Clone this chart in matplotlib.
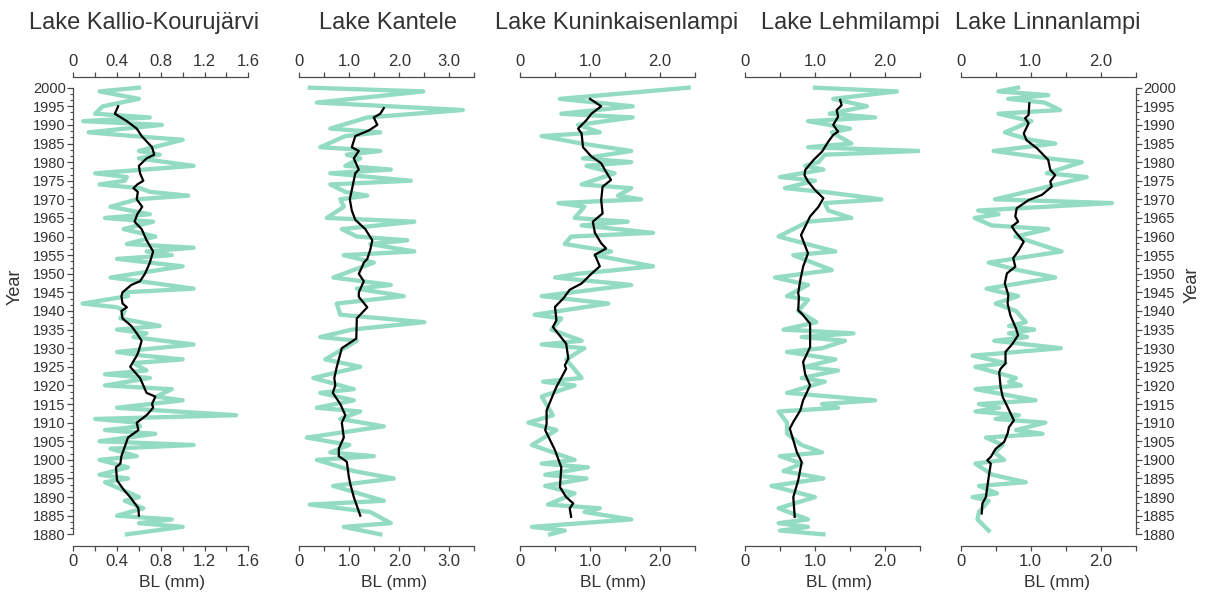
import numpy as np
import matplotlib.pyplot as plt
from matplotlib.ticker import MultipleLocator, AutoMinorLocator, FixedLocator, FuncFormatter

plt.rcParams['font.family'] = ['Liberation Sans', 'DejaVu Sans']

# Lake Kallio-Kourujärvi
kk_years = [2000, 1999, 1997, 1995, 1993, 1992, 1991, 1990, 1988, 1987, 1986, 1983, 1982, 1981,
            1979, 1977, 1976, 1975, 1974, 1973, 1972, 1971, 1970, 1968, 1966, 1965, 1964, 1962,
            1960, 1958, 1957, 1956, 1955, 1954, 1952, 1949, 1948, 1946, 1945, 1944, 1942, 1941,
            1940, 1938, 1936, 1935, 1934, 1933, 1931, 1929, 1928, 1927, 1926, 1924, 1923, 1922,
            1920, 1919, 1917, 1916, 1914, 1912, 1911, 1910, 1909, 1908, 1907, 1905, 1904, 1903,
            1901, 1900, 1898, 1896, 1895, 1894, 1890, 1889, 1887, 1885, 1884, 1883, 1882, 1880]
kk_bl = [0.60, 0.24, 0.60, 0.27, 0.20, 0.70, 0.09, 0.81, 0.14, 0.55, 1.00, 0.60, 0.79, 0.60,
         1.10, 0.20, 0.49, 0.47, 0.24, 0.61, 0.70, 1.05, 0.58, 0.34, 0.70, 0.29, 0.73, 0.46,
         0.75, 0.49, 1.10, 0.67, 0.90, 0.40, 1.00, 0.34, 0.61, 1.10, 0.46, 0.50, 0.085, 0.40,
         0.47, 0.43, 0.79, 0.40, 0.67, 0.55, 1.10, 0.40, 0.64, 1.00, 0.55, 0.67, 0.29, 0.70,
         0.29, 0.90, 0.76, 1.00, 0.40, 1.49, 0.20, 0.58, 0.61, 0.29, 0.75, 0.24, 1.10, 0.34,
         0.58, 0.24, 0.50, 0.24, 0.50, 0.29, 0.60, 0.47, 0.64, 0.40, 0.90, 0.60, 1.00, 0.49]
kk_smooth_years = [1995, 1993, 1991, 1989, 1987, 1984, 1982, 1981, 1979, 1977, 1975, 1974, 1973,
                   1972, 1970, 1968, 1966, 1964, 1962, 1959, 1956, 1953, 1950, 1948, 1947, 1945,
                   1944, 1942, 1941, 1940, 1938, 1936, 1934, 1932, 1929, 1928, 1925, 1922, 1920,
                   1918, 1917, 1915, 1914, 1912, 1910, 1908, 1906, 1903.5, 1901, 1899, 1898,
                   1894.5, 1892, 1890, 1887, 1885]
kk_smooth = [0.41, 0.38, 0.49, 0.58, 0.625, 0.72, 0.74, 0.67, 0.60, 0.61, 0.64, 0.585, 0.55,
             0.59, 0.58, 0.63, 0.585, 0.56, 0.625, 0.67, 0.73, 0.70, 0.655, 0.61, 0.53, 0.45,
             0.44, 0.45, 0.49, 0.44, 0.45, 0.53, 0.58, 0.625, 0.595, 0.58, 0.52, 0.61, 0.64,
             0.67, 0.75, 0.72, 0.73, 0.67, 0.58, 0.595, 0.50, 0.47, 0.44, 0.43, 0.39,
             0.40, 0.46, 0.52, 0.595, 0.60]

# Lake Kantele
ka_years = [2000, 1999, 1996, 1994, 1992, 1989, 1988, 1987, 1984, 1983, 1982, 1981, 1979, 1978,
            1977, 1975, 1974, 1972, 1971, 1970, 1968, 1965, 1964, 1962, 1960, 1959, 1958, 1956,
            1955, 1953, 1949, 1947, 1946, 1944, 1942, 1939, 1937, 1935, 1933, 1932, 1927, 1925,
            1922, 1919, 1918, 1916, 1914, 1913, 1911, 1909, 1906, 1904, 1902, 1901, 1900, 1897,
            1895, 1893, 1889, 1888, 1886, 1883, 1882, 1880]
ka_bl = [0.21, 2.48, 0.35, 3.27, 1.36, 0.62, 1.62, 0.92, 0.42, 1.62, 0.95, 1.22, 0.92, 1.83,
         0.62, 2.23, 0.62, 0.92, 1.36, 0.82, 0.89, 0.55, 2.30, 0.85, 1.15, 2.16, 1.42, 2.30,
         0.89, 1.49, 0.68, 1.83, 1.15, 2.09, 0.75, 0.82, 2.50, 1.05, 0.42, 1.15, 0.52, 1.22,
         0.28, 1.09, 0.42, 1.09, 0.35, 1.22, 0.82, 1.69, 0.15, 1.00, 0.62, 1.49, 0.35, 1.09,
         1.89, 0.68, 1.69, 0.21, 1.42, 1.83, 0.89, 1.62]
ka_smooth_years = [1994.5, 1993, 1992, 1990, 1988.5, 1987, 1984, 1983, 1981, 1978, 1977, 1972.5,
                   1970, 1967, 1964.5, 1962, 1959, 1956.5, 1954, 1953, 1952, 1950, 1948, 1945,
                   1943.8, 1941, 1938, 1932.6, 1930, 1925, 1922, 1920, 1918, 1915, 1912, 1910,
                   1906, 1903, 1901, 1899.5, 1895.5, 1893.5, 1890, 1885]
ka_smooth = [1.69, 1.62, 1.49, 1.56, 1.39, 1.12, 1.05, 1.19, 1.09, 1.19, 1.12, 1.05,
             1.01, 1.05, 1.12, 1.32, 1.46, 1.42, 1.36, 1.29, 1.26, 1.19, 1.29, 1.19,
             1.19, 1.36, 1.15, 1.14, 0.85, 0.75, 0.70, 0.72, 0.67, 0.82, 0.92, 0.85,
             0.89, 0.79, 0.79, 0.95, 0.99, 1.02, 1.09, 1.22]

# Lake Kuninkaisenlampi
ku_years = [2000, 1997, 1995, 1993, 1992, 1990, 1988, 1987, 1985, 1983, 1981, 1980, 1979, 1977,
            1974, 1973, 1971, 1970, 1969, 1968, 1965, 1964, 1963, 1961, 1960, 1958, 1956, 1955,
            1952, 1950, 1949, 1947, 1944, 1942, 1939, 1938, 1935, 1932, 1931, 1930, 1927, 1922,
            1921, 1920, 1917, 1912, 1910, 1908, 1904, 1900, 1899, 1898, 1896, 1895, 1893, 1891,
            1888, 1887, 1886, 1884, 1882, 1881, 1880]
ku_bl = [2.41, 0.57, 1.61, 0.59, 1.61, 0.83, 1.14, 0.31, 0.88, 1.59, 0.90, 1.59, 0.95, 1.35,
         0.88, 1.59, 1.40, 1.73, 0.55, 0.92, 0.78, 1.54, 0.88, 1.90, 0.73, 0.64, 1.30, 1.07,
         1.90, 0.83, 0.50, 1.59, 0.31, 1.26, 0.21, 0.59, 0.45, 0.88, 0.31, 0.92, 0.66, 0.88,
         0.33, 0.78, 0.31, 0.47, 0.12, 0.52, 0.17, 0.78, 0.31, 0.97, 0.36, 0.95, 0.36, 0.78,
         0.40, 1.14, 0.92, 1.59, 0.17, 0.64, 0.43]
ku_smooth_years = [1997, 1995, 1993, 1991.3, 1989, 1987.7, 1984, 1981.5, 1979.7, 1978, 1975.2,
                   1973.4, 1969.8, 1966.2, 1964, 1961, 1958.2, 1956.8, 1955.1, 1952, 1950,
                   1947.4, 1945.7, 1943.4, 1941.1, 1937.5, 1935.7, 1931.2, 1927.2, 1925.4,
                   1924.5, 1919.6, 1917.4, 1913.3, 1909.7, 1908, 1905.3, 1902.6, 1898, 1892.7,
                   1890, 1888.3, 1887, 1884.7]
ku_smooth = [1.00, 1.16, 1.02, 0.95, 0.83, 0.88, 0.90, 1.02, 1.16, 1.21, 1.30,
             1.18, 1.16, 1.18, 1.04, 1.07, 1.16, 1.23, 1.07, 1.14, 1.02,
             0.88, 0.71, 0.62, 0.50, 0.52, 0.47, 0.66, 0.69, 0.64,
             0.66, 0.52, 0.47, 0.38, 0.38, 0.36, 0.43, 0.50, 0.59, 0.57,
             0.66, 0.76, 0.71, 0.73]

# Lake Lehmilampi
le_years = [2000, 1999, 1997, 1995, 1993, 1992, 1991, 1989, 1988, 1985, 1984, 1983, 1982, 1980,
            1979, 1978, 1976, 1975, 1973, 1972, 1970, 1969, 1967, 1965, 1964, 1960, 1956, 1955,
            1951, 1949, 1947, 1944, 1943, 1940, 1937, 1935, 1934, 1933, 1932, 1930, 1929, 1927,
            1925, 1924, 1922, 1921, 1918, 1916, 1915, 1914, 1913, 1910, 1907, 1904, 1902, 1901,
            1899, 1897, 1895, 1893, 1890, 1887, 1884, 1883, 1882, 1881, 1880]
le_bl = [1.00, 2.17, 1.26, 1.74, 1.21, 1.86, 0.90, 1.50, 1.24, 1.52, 0.90, 2.48, 1.14, 1.05,
         0.86, 1.12, 0.50, 1.00, 0.57, 1.12, 1.95, 1.14, 1.19, 1.52, 0.90, 0.48, 1.29, 0.69,
         1.24, 0.43, 0.90, 0.60, 0.90, 0.76, 1.02, 0.55, 1.55, 0.81, 1.43, 1.10, 0.60, 1.29,
         0.86, 1.33, 0.81, 1.14, 0.60, 1.86, 1.10, 1.33, 0.48, 0.60, 0.60, 0.81, 1.10, 0.50,
         0.81, 0.55, 1.12, 0.38, 1.00, 0.48, 0.90, 0.48, 0.90, 0.50, 1.12]
le_smooth_years = [1996.7, 1995.3, 1994, 1992.2, 1990, 1988.2, 1987.3, 1985.5, 1982.8, 1980.6,
                   1977.9, 1976.5, 1974.8, 1972.5, 1970.3, 1968, 1965.4, 1962.7, 1960.4, 1955.5,
                   1951.9, 1948.3, 1944.8, 1943.8, 1940.2, 1939.3, 1936.6, 1930.3, 1926.3, 1923,
                   1920, 1916, 1913.3, 1910.2, 1908.4, 1905.3, 1902.1, 1899.4, 1894.5, 1890,
                   1884.7]
le_smooth = [1.36, 1.38, 1.31, 1.33, 1.26, 1.33, 1.26, 1.19, 1.10, 0.98,
             0.86, 0.85, 0.90, 1.00, 1.12, 1.05, 0.93, 0.86, 0.80, 0.90,
             0.83, 0.79, 0.76, 0.77, 0.76, 0.81, 0.93, 0.93, 0.83, 0.86,
             0.93, 0.83, 0.79, 0.69, 0.64, 0.69, 0.74, 0.81, 0.76, 0.69,
             0.71]

# Lake Linnanlampi
li_years = [2000, 1999, 1998, 1997, 1996, 1994, 1993, 1991, 1988, 1986, 1985, 1983, 1981, 1980,
            1977, 1976, 1973, 1970, 1969, 1967, 1966, 1965, 1963, 1962, 1960, 1956, 1953, 1951,
            1949, 1946, 1944, 1942, 1940, 1937, 1936, 1935, 1934, 1933, 1932, 1930, 1928, 1926,
            1925, 1922, 1921, 1920, 1919, 1916, 1915, 1914, 1913, 1912, 1911, 1910, 1908, 1907,
            1906, 1904, 1902, 1900, 1899, 1896, 1894, 1893, 1891, 1890, 1889, 1886, 1884, 1881]
li_bl = [0.82, 0.54, 1.25, 0.68, 1.20, 1.42, 0.54, 1.01, 0.63, 0.99, 1.35, 0.47, 1.25, 1.73,
         1.23, 1.80, 1.16, 0.49, 2.16, 0.25, 0.54, 0.20, 0.44, 1.25, 0.78, 1.44, 0.40, 0.82,
         1.35, 0.37, 0.82, 0.50, 0.79, 0.93, 0.69, 1.05, 0.69, 0.95, 0.48, 1.43, 0.17, 0.64,
         0.21, 0.79, 0.69, 0.86, 0.21, 1.07, 0.26, 0.55, 0.21, 0.83, 0.50, 1.21, 0.79, 1.17,
         0.36, 0.60, 0.48, 0.62, 0.21, 0.45, 0.93, 0.26, 0.52, 0.17, 0.40, 0.26, 0.24, 0.40]
li_smooth_years = [1995.8, 1992.7, 1991.8, 1990.4, 1987.7, 1985.9, 1983.7, 1980.6, 1977.9, 1976.5,
                   1974.8, 1973.4, 1971.2, 1969.8, 1967.6, 1965.4, 1964, 1962.7, 1961.3, 1958.6,
                   1956, 1954.2, 1951.9, 1950.1, 1947.4, 1944.3, 1942, 1938.8, 1935.3, 1933.5,
                   1931.2, 1929, 1925.9, 1924.5, 1923.5, 1919.6, 1916.9, 1914.2, 1910.6, 1908.8,
                   1907.1, 1904.8, 1903, 1900.8, 1899.9, 1899, 1895.4, 1890, 1888.3, 1885.6]
li_smooth = [0.98, 0.97, 0.92, 0.97, 0.90, 0.94, 1.09, 1.25, 1.28, 1.35,
             1.28, 1.30, 1.16, 0.97, 0.80, 0.78, 0.82, 0.73, 0.78, 0.90,
             0.82, 0.75, 0.78, 0.66, 0.63, 0.68, 0.67, 0.71, 0.79, 0.82,
             0.74, 0.64, 0.64, 0.57, 0.55, 0.57, 0.60, 0.67, 0.76, 0.69,
             0.67, 0.62, 0.50, 0.43, 0.38, 0.43, 0.40, 0.36, 0.31, 0.30]

titles = ["Lake Kallio-Kourujärvi", "Lake Kantele", "Lake Kuninkaisenlampi",
          "Lake Lehmilampi", "Lake Linnanlampi"]
xmax = [1.6, 3.5, 2.5, 2.5, 2.5]
xstep = [0.4, 1.0, 1.0, 1.0, 1.0]

series = [(kk_years, kk_bl, kk_smooth_years, kk_smooth),
          (ka_years, ka_bl, ka_smooth_years, ka_smooth),
          (ku_years, ku_bl, ku_smooth_years, ku_smooth),
          (le_years, le_bl, le_smooth_years, le_smooth),
          (li_years, li_bl, li_smooth_years, li_smooth)]

# pixel layout of the reference (1208 x 597)
W, H = 1208, 597
ax_left = [73.3, 299.3, 520, 745, 960.7]
ax_width = 175
ax_top, ax_bot = 77, 546
title_x = [144, 388, 617, 850, 1048]
label_x = [172, 394, 613, 839, 1057]

green = '#93dcc3'
axis_col = '#4a4a4a'
text_col = '#333333'

fig = plt.figure(figsize=(W / 100, H / 100), dpi=100)

major_years = list(range(1880, 2001, 5))
minor_years = [1880 + i * 5 / 3 for i in range(73) if i % 3]

fmt = FuncFormatter(lambda v, p: "0" if abs(v) < 1e-9 else f"{v:.1f}")

for i in range(5):
    yrs, bl, syrs, sm = series[i]
    ax = fig.add_axes([ax_left[i] / W, 1 - ax_bot / H, ax_width / W, (ax_bot - ax_top) / H])
    ax.plot(bl, yrs, color=green, lw=3.1, solid_joinstyle='round', zorder=2)
    ax.plot(sm, syrs, color='black', lw=1.6, zorder=3)

    ax.set_xlim(0, xmax[i])
    ax.set_ylim(1876.86, 2002.87)
    ax.xaxis.set_major_locator(MultipleLocator(xstep[i]))
    ax.xaxis.set_minor_locator(AutoMinorLocator(2))
    ax.xaxis.set_major_formatter(fmt)
    ax.tick_params(axis='x', which='both', direction='out', top=True, bottom=True,
                   labeltop=True, labelbottom=True, colors=axis_col, labelcolor=text_col,
                   labelsize=12, pad=2.5)
    ax.tick_params(axis='x', which='both', length=3.5, width=0.9)

    for s in ['top', 'bottom']:
        ax.spines[s].set_color(axis_col)
        ax.spines[s].set_linewidth(0.9)
    ax.spines['left'].set_visible(False)
    ax.spines['right'].set_visible(False)

    if i == 0 or i == 4:
        side = 'left' if i == 0 else 'right'
        ax.spines[side].set_visible(True)
        ax.spines[side].set_bounds(1880, 2000)
        ax.spines[side].set_color(axis_col)
        ax.spines[side].set_linewidth(0.9)
        ax.yaxis.set_major_locator(FixedLocator(major_years))
        ax.yaxis.set_minor_locator(FixedLocator(minor_years))
        if i == 4:
            ax.yaxis.tick_right()
        ax.tick_params(axis='y', which='both', direction='out', colors=axis_col,
                       labelcolor=text_col, labelsize=10.5, pad=1.5)
        ax.tick_params(axis='y', which='major', length=4, width=0.9)
        ax.tick_params(axis='y', which='minor', length=2.5, width=0.8)
    else:
        ax.tick_params(axis='y', which='both', left=False, right=False,
                       labelleft=False, labelright=False)

    fig.text(title_x[i] / W, 1 - 29 / H, titles[i], ha='center', va='baseline',
             fontsize=17, color=text_col)
    fig.text(label_x[i] / W, 1 - 583 / H, "BL (mm)", ha='center', va='center',
             fontsize=12.5, color=text_col)

fig.text(15 / W, 1 - 287 / H, "Year", rotation=90, ha='center', va='center',
         fontsize=13, color=text_col)
fig.text(1192 / W, 1 - 285 / H, "Year", rotation=90, ha='center', va='center',
         fontsize=13, color=text_col)

fig.savefig("out.png", dpi=100)
